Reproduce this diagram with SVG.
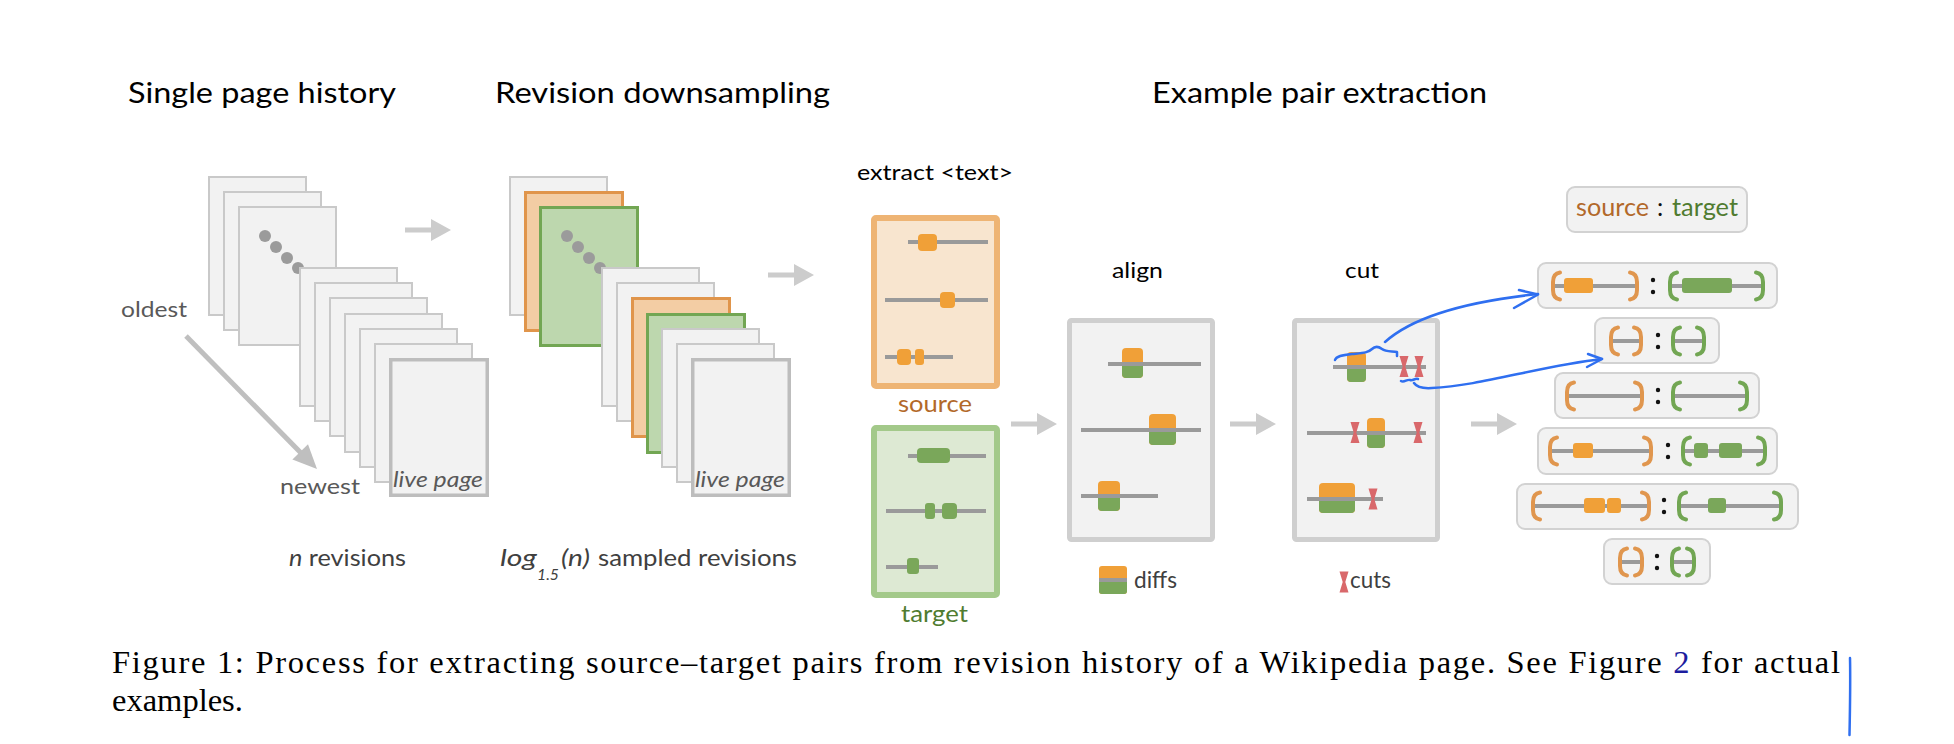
<svg xmlns="http://www.w3.org/2000/svg" width="1954" height="744" viewBox="0 0 1954 744">
  <defs>
    <style>
      .t { font-family: Lato, "Open Sans", "Liberation Sans", sans-serif; }
      .title { font-size: 29px; fill: #000; }
      .step { font-size: 22px; fill: #000; }
      .note { font-size: 22px; fill: #595959; }
      .leg { font-size: 23px; fill: #404040; }
      .src { fill: #b2692a; }
      .tgt { fill: #507c30; }
      .pg { fill: #f2f2f2; stroke: #c9c9c9; stroke-width: 2; }
      .live { fill: #f2f2f2; stroke: #bdbdbd; stroke-width: 3.5; }
      .pgo { fill: #f3cda4; stroke: #e0954b; stroke-width: 3; }
      .pgg { fill: #bdd7ae; stroke: #72a653; stroke-width: 3; }
      .dot { fill: #9b9b9b; }
      .gl { stroke: #9a9a9a; stroke-width: 4; fill: none; }
      .ob { fill: #f0a038; }
      .gb { fill: #7aa75a; }
      .panel { fill: #f2f2f2; stroke: #cfcfcf; stroke-width: 5; }
      .pair { fill: #f2f2f2; stroke: #d2d2d2; stroke-width: 2; }
      .ob-br { stroke: #e0964e; }
      .gb-br { stroke: #72a653; }
      .cutm { fill: #d9686b; }
      .flow { fill: #cccccc; }
      .ink { fill: none; stroke: #2f6ff0; stroke-width: 2.5; stroke-linecap: round; stroke-linejoin: round; }
      .cap { font-family: "Liberation Serif", "Times New Roman", serif; font-size: 32.5px; fill: #000; }
    </style>
    <!-- bracket glyphs drawn as strokes -->
    <path id="lp" d="M7,-13.5 Q0,-12.5 0,-4 L0,4 Q0,12.5 7,13.5" fill="none" stroke-width="4" stroke-linecap="round"/>
    <path id="rp" d="M-7,-13.5 Q0,-12.5 0,-4 L0,4 Q0,12.5 -7,13.5" fill="none" stroke-width="4" stroke-linecap="round"/>
    <!-- cut marker (hourglass) -->
    <path id="cut" d="M-4.5,-10.5 L4.5,-10.5 L1.3,0 L4.5,10.5 L-4.5,10.5 L-1.3,0 Z"/>
    <!-- grey flow arrow -->
    <path id="flowArrow" d="M0,-2.5 H26 V-11 L46,0 L26,11 V2.5 H0 Z"/>
    <!-- colon between source and target -->
    <g id="colon"><circle cx="0" cy="-6" r="2.2" fill="#111"/><circle cx="0" cy="6" r="2.2" fill="#111"/></g>
  </defs>

  <rect width="1954" height="744" fill="#ffffff"/>

  <!-- section titles -->
  <g id="titles" class="t">
    <text class="title" x="128" y="103" textLength="268" lengthAdjust="spacingAndGlyphs">Single page history</text>
    <text class="title" x="495" y="103" textLength="335" lengthAdjust="spacingAndGlyphs">Revision downsampling</text>
    <text class="title" x="1152" y="103" textLength="335" lengthAdjust="spacingAndGlyphs">Example pair extraction</text>
  </g>

  <!-- full revision history -->
  <g id="history">
    <rect class="pg" x="209" y="177" width="97" height="138"/>
    <rect class="pg" x="224" y="192" width="97" height="138"/>
    <rect class="pg" x="239" y="207" width="97" height="138"/>
    <circle class="dot" cx="265" cy="236" r="6"/>
    <circle class="dot" cx="276" cy="247" r="6"/>
    <circle class="dot" cx="287" cy="258" r="6"/>
    <circle class="dot" cx="298" cy="268" r="6"/>
    <rect class="pg" x="300" y="268" width="97" height="138"/>
    <rect class="pg" x="315" y="283" width="97" height="138"/>
    <rect class="pg" x="330" y="298" width="97" height="138"/>
    <rect class="pg" x="345" y="314" width="97" height="138"/>
    <rect class="pg" x="360" y="329" width="97" height="138"/>
    <rect class="pg" x="375" y="344" width="97" height="138"/>
    <rect class="live" x="390.75" y="359.75" width="96.5" height="135.5"/>
    <text class="t note" x="393" y="487" font-style="italic" font-size="21" textLength="90" lengthAdjust="spacingAndGlyphs">live page</text>
    <text class="t note" x="121" y="317" textLength="66" lengthAdjust="spacingAndGlyphs">oldest</text>
    <text class="t note" x="280" y="494" textLength="80" lengthAdjust="spacingAndGlyphs">newest</text>
    <line x1="186" y1="336" x2="301" y2="453" stroke="#bfbfbf" stroke-width="5"/>
    <polygon points="317,469 292.4,459.6 308,444.2" fill="#bfbfbf"/>
    <text class="t leg" x="289" y="566" textLength="117" lengthAdjust="spacingAndGlyphs"><tspan font-style="italic">n</tspan> revisions</text>
  </g>

  <!-- downsampled revisions -->
  <g id="downsampled">
    <rect class="pg" x="510" y="177" width="97" height="138"/>
    <rect class="pgo" x="525.5" y="192.5" width="97" height="138"/>
    <rect class="pgg" x="540.5" y="207.5" width="97" height="138"/>
    <circle class="dot" cx="567" cy="236" r="6"/>
    <circle class="dot" cx="578" cy="247" r="6"/>
    <circle class="dot" cx="589" cy="258" r="6"/>
    <circle class="dot" cx="600" cy="268" r="6"/>
    <rect class="pg" x="602" y="268" width="97" height="138"/>
    <rect class="pg" x="617" y="283" width="97" height="138"/>
    <rect class="pgo" x="632.5" y="298.5" width="97" height="138"/>
    <rect class="pgg" x="647.5" y="314.5" width="97" height="138"/>
    <rect class="pg" x="662" y="329" width="97" height="138"/>
    <rect class="pg" x="677" y="344" width="97" height="138"/>
    <rect class="live" x="692.75" y="359.75" width="96.5" height="135.5"/>
    <text class="t note" x="695" y="487" font-style="italic" font-size="21" textLength="90" lengthAdjust="spacingAndGlyphs">live page</text>
    <g class="t leg" font-style="italic">
      <text x="500" y="566" textLength="37" lengthAdjust="spacingAndGlyphs">log</text>
      <text x="537" y="580" font-size="15" textLength="22" lengthAdjust="spacingAndGlyphs">1.5</text>
      <text x="561" y="566" textLength="29" lengthAdjust="spacingAndGlyphs">(n)</text>
    </g>
    <text class="t leg" x="598" y="566" textLength="199" lengthAdjust="spacingAndGlyphs">sampled revisions</text>
  </g>

  <!-- extracted source text -->
  <g id="source">
    <text class="t step" x="857" y="180" textLength="156" lengthAdjust="spacingAndGlyphs">extract &lt;text&gt;</text>
    <rect x="874" y="218" width="123" height="168" rx="2" fill="#f8e5cf" stroke="#eeb474" stroke-width="6"/>
    <line class="gl" x1="908" y1="242" x2="988" y2="242"/>
    <rect class="ob" x="918" y="234" width="19" height="17" rx="4"/>
    <line class="gl" x1="885" y1="300" x2="988" y2="300"/>
    <rect class="ob" x="940" y="292" width="15" height="16" rx="4"/>
    <line class="gl" x1="885" y1="357" x2="953" y2="357"/>
    <rect class="ob" x="897" y="349" width="14" height="16" rx="4"/>
    <rect class="ob" x="915" y="349" width="9" height="16" rx="3"/>
    <text class="t src" x="898" y="412" font-size="24" textLength="74" lengthAdjust="spacingAndGlyphs">source</text>
  </g>

  <!-- extracted target text -->
  <g id="target">
    <rect x="874" y="428" width="123" height="167" rx="2" fill="#dde9d3" stroke="#a3c98a" stroke-width="6"/>
    <line class="gl" x1="908" y1="456" x2="986" y2="456"/>
    <rect class="gb" x="917" y="448" width="33" height="15" rx="4"/>
    <line class="gl" x1="886" y1="511" x2="986" y2="511"/>
    <rect class="gb" x="925" y="503" width="10" height="16" rx="3"/>
    <rect class="gb" x="942" y="503" width="15" height="16" rx="4"/>
    <line class="gl" x1="886" y1="567" x2="938" y2="567"/>
    <rect class="gb" x="907" y="558" width="12" height="16" rx="3"/>
    <text class="t tgt" x="901" y="622" font-size="24" textLength="67" lengthAdjust="spacingAndGlyphs">target</text>
  </g>

  <!-- alignment of diffs -->
  <g id="align">
    <text class="t step" x="1112" y="278" textLength="51" lengthAdjust="spacingAndGlyphs">align</text>
    <rect class="panel" x="1069.5" y="320.5" width="143" height="219" rx="2"/>
    <rect class="ob" x="1122" y="348" width="21" height="30" rx="4"/>
    <rect class="gb" x="1122" y="363" width="21" height="15" rx="4"/>
    <rect class="gb" x="1122" y="363" width="21" height="6"/>
    <line class="gl" x1="1108" y1="364" x2="1201" y2="364"/>
    <rect class="ob" x="1149" y="414" width="27" height="31" rx="4"/>
    <rect class="gb" x="1149" y="430" width="27" height="15" rx="4"/>
    <rect class="gb" x="1149" y="430" width="27" height="6"/>
    <line class="gl" x1="1081" y1="430" x2="1201" y2="430"/>
    <rect class="ob" x="1098" y="481" width="22" height="30" rx="4"/>
    <rect class="gb" x="1098" y="496" width="22" height="15" rx="4"/>
    <rect class="gb" x="1098" y="496" width="22" height="6"/>
    <line class="gl" x1="1081" y1="496" x2="1158" y2="496"/>
    <!-- legend -->
    <rect class="ob" x="1099" y="566" width="28" height="28" rx="3"/>
    <rect class="gb" x="1099" y="580" width="28" height="14" rx="3"/>
    <rect class="gb" x="1099" y="580" width="28" height="6"/>
    <line class="gl" x1="1099" y1="580" x2="1127" y2="580"/>
    <text class="t leg" x="1134" y="588" font-size="22" textLength="43" lengthAdjust="spacingAndGlyphs">diffs</text>
  </g>

  <!-- cutting around diffs -->
  <g id="cut-step">
    <text class="t step" x="1345" y="278" textLength="34" lengthAdjust="spacingAndGlyphs">cut</text>
    <rect class="panel" x="1294.5" y="320.5" width="143" height="219" rx="2"/>
    <rect class="ob" x="1347" y="352" width="19" height="30" rx="4"/>
    <rect class="gb" x="1347" y="367" width="19" height="15" rx="4"/>
    <rect class="gb" x="1347" y="367" width="19" height="6"/>
    <line class="gl" x1="1333" y1="367" x2="1426" y2="367"/>
    <use href="#cut" class="cutm" x="1404" y="366.5"/>
    <use href="#cut" class="cutm" x="1419" y="366.5"/>
    <rect class="ob" x="1367" y="418" width="18" height="30" rx="4"/>
    <rect class="gb" x="1367" y="433" width="18" height="15" rx="4"/>
    <rect class="gb" x="1367" y="433" width="18" height="6"/>
    <line class="gl" x1="1307" y1="433" x2="1426" y2="433"/>
    <use href="#cut" class="cutm" x="1355" y="432.5"/>
    <use href="#cut" class="cutm" x="1418" y="432.5"/>
    <rect class="ob" x="1319" y="483" width="36" height="30" rx="4"/>
    <rect class="gb" x="1319" y="498" width="36" height="15" rx="4"/>
    <rect class="gb" x="1319" y="498" width="36" height="6"/>
    <line class="gl" x1="1307" y1="499" x2="1383" y2="499"/>
    <use href="#cut" class="cutm" x="1373" y="499"/>
    <!-- legend -->
    <use href="#cut" class="cutm" x="1344" y="582"/>
    <text class="t leg" x="1350" y="588" font-size="22" textLength="41" lengthAdjust="spacingAndGlyphs">cuts</text>
  </g>

  <!-- resulting source : target pairs -->
  <g id="pairs">
    <g id="pair-header">
      <rect class="pair" x="1567" y="187" width="180" height="45" rx="8"/>
      <text class="t src" x="1576" y="216" font-size="25" textLength="73" lengthAdjust="spacingAndGlyphs">source</text>
      <text class="t" x="1657" y="216" font-size="25" fill="#111">:</text>
      <text class="t tgt" x="1672" y="216" font-size="25" textLength="66" lengthAdjust="spacingAndGlyphs">target</text>
    </g>

    <g id="pair-1">
      <rect class="pair" x="1538" y="263" width="239" height="45" rx="8"/>
      <line class="gl" x1="1553" y1="286" x2="1637" y2="286"/>
      <rect class="ob" x="1564" y="278" width="29" height="15" rx="3"/>
      <use href="#lp" class="ob-br" x="1553" y="286"/>
      <use href="#rp" class="ob-br" x="1637" y="286"/>
      <use href="#colon" x="1653" y="286"/>
      <line class="gl" x1="1670" y1="286" x2="1763" y2="286"/>
      <rect class="gb" x="1682" y="278" width="50" height="15" rx="3"/>
      <use href="#lp" class="gb-br" x="1670" y="286"/>
      <use href="#rp" class="gb-br" x="1763" y="286"/>
    </g>

    <g id="pair-2">
      <rect class="pair" x="1595" y="318" width="124" height="45" rx="8"/>
      <line class="gl" x1="1611" y1="341" x2="1641" y2="341"/>
      <use href="#lp" class="ob-br" x="1611" y="341"/>
      <use href="#rp" class="ob-br" x="1641" y="341"/>
      <use href="#colon" x="1658" y="341"/>
      <line class="gl" x1="1673" y1="341" x2="1704" y2="341"/>
      <use href="#lp" class="gb-br" x="1673" y="341"/>
      <use href="#rp" class="gb-br" x="1704" y="341"/>
    </g>

    <g id="pair-3">
      <rect class="pair" x="1555" y="373" width="204" height="45" rx="8"/>
      <line class="gl" x1="1567" y1="396" x2="1642" y2="396"/>
      <use href="#lp" class="ob-br" x="1567" y="396"/>
      <use href="#rp" class="ob-br" x="1642" y="396"/>
      <use href="#colon" x="1658" y="396"/>
      <line class="gl" x1="1673" y1="396" x2="1747" y2="396"/>
      <use href="#lp" class="gb-br" x="1673" y="396"/>
      <use href="#rp" class="gb-br" x="1747" y="396"/>
    </g>

    <g id="pair-4">
      <rect class="pair" x="1538" y="428" width="239" height="46" rx="8"/>
      <line class="gl" x1="1550" y1="451" x2="1651" y2="451"/>
      <rect class="ob" x="1573" y="443" width="20" height="15" rx="3"/>
      <use href="#lp" class="ob-br" x="1550" y="451"/>
      <use href="#rp" class="ob-br" x="1651" y="451"/>
      <use href="#colon" x="1668" y="451"/>
      <line class="gl" x1="1683" y1="451" x2="1765" y2="451"/>
      <rect class="gb" x="1694" y="443" width="14" height="15" rx="3"/>
      <rect class="gb" x="1719" y="443" width="23" height="15" rx="3"/>
      <use href="#lp" class="gb-br" x="1683" y="451"/>
      <use href="#rp" class="gb-br" x="1765" y="451"/>
    </g>

    <g id="pair-5">
      <rect class="pair" x="1517" y="484" width="281" height="45" rx="8"/>
      <line class="gl" x1="1533" y1="506" x2="1649" y2="506"/>
      <rect class="ob" x="1584" y="498" width="21" height="15" rx="3"/>
      <rect class="ob" x="1607" y="498" width="14" height="15" rx="3"/>
      <use href="#lp" class="ob-br" x="1533" y="506"/>
      <use href="#rp" class="ob-br" x="1649" y="506"/>
      <use href="#colon" x="1664" y="506"/>
      <line class="gl" x1="1679" y1="506" x2="1781" y2="506"/>
      <rect class="gb" x="1708" y="498" width="18" height="15" rx="3"/>
      <use href="#lp" class="gb-br" x="1679" y="506"/>
      <use href="#rp" class="gb-br" x="1781" y="506"/>
    </g>

    <g id="pair-6">
      <rect class="pair" x="1604" y="539" width="106" height="45" rx="8"/>
      <line class="gl" x1="1620" y1="562" x2="1642" y2="562"/>
      <use href="#lp" class="ob-br" x="1620" y="562"/>
      <use href="#rp" class="ob-br" x="1642" y="562"/>
      <use href="#colon" x="1657" y="562"/>
      <line class="gl" x1="1672" y1="562" x2="1694" y2="562"/>
      <use href="#lp" class="gb-br" x="1672" y="562"/>
      <use href="#rp" class="gb-br" x="1694" y="562"/>
    </g>
  </g>

  <!-- flow arrows between stages -->
  <g id="connectors">
    <use href="#flowArrow" class="flow" x="405" y="230"/>
    <use href="#flowArrow" class="flow" x="768" y="275"/>
    <use href="#flowArrow" class="flow" x="1011" y="424"/>
    <use href="#flowArrow" class="flow" x="1230" y="424"/>
    <use href="#flowArrow" class="flow" x="1471" y="424"/>
  </g>

  <!-- hand-drawn pen marks -->
  <g id="pen-marks">
    <path class="ink" d="M1335,360 C1336,356 1342,355 1352,354 C1362,353 1368,353 1372,349 C1375,346 1378,346 1382,349 C1386,352 1392,351 1397,352 L1397,356"/>
    <path class="ink" d="M1385,342 Q1425,306 1538,294"/>
    <path class="ink" d="M1519,290 L1538,294.5 L1514,308"/>
    <path class="ink" d="M1401,381 C1404,383 1407,379 1410,380 C1413,381 1415,378 1418,379"/>
    <path class="ink" d="M1414,383 Q1418,389 1432,388 C1480,386 1540,366 1602,359"/>
    <path class="ink" d="M1588,354 L1602,359 L1587,367"/>
    <path class="ink" d="M1850,658 C1850.5,680 1850,710 1849.5,735"/>
  </g>

  <!-- caption -->
  <g id="caption">
    <text class="cap" x="112" y="673" textLength="1728" lengthAdjust="spacing">Figure 1:  Process for extracting source–target pairs from revision history of a Wikipedia page.  See Figure <tspan fill="#1c1c9e">2</tspan> for actual</text>
    <text class="cap" x="112" y="711">examples.</text>
  </g>
</svg>
